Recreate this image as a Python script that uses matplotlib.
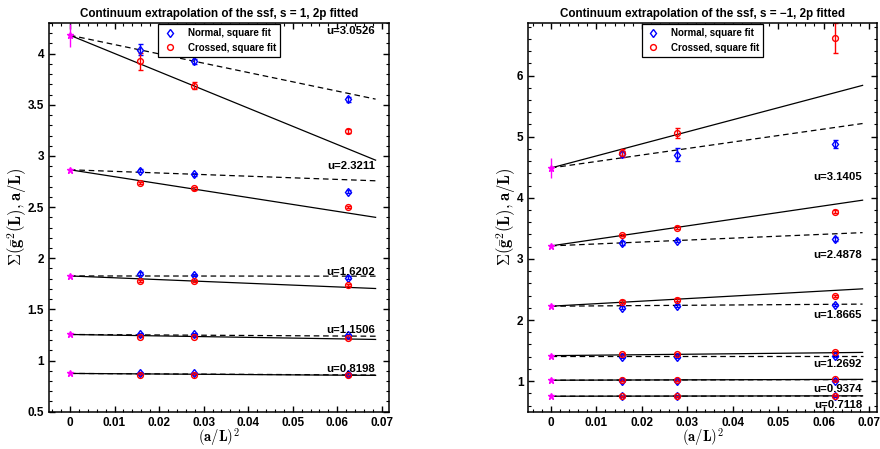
import numpy as np
import matplotlib
matplotlib.use('Agg')
import matplotlib.pyplot as plt
from matplotlib.ticker import MultipleLocator

plt.rcParams['font.family'] = ['Liberation Sans', 'DejaVu Sans']
plt.rcParams['font.weight'] = 'bold'
plt.rcParams['mathtext.fontset'] = 'cm'

# lattice spacings (a/L)^2 for L/a = 8, 6, 4
x_pts = [1 / 64.0, 1 / 36.0, 1 / 16.0]
x_end = 0.0686

# s = 1
u_s1 = ['3.0526', '2.3211', '1.6202', '1.1506', '0.8198']
cont_s1 = [4.18, 2.865, 1.827, 1.255, 0.874]
cont_err_s1 = [0.11, 0.012, 0.008, 0.006, 0.005]
normal_s1 = [[4.04, 3.925, 3.553], [2.855, 2.82, 2.65], [1.85, 1.834, 1.81],
             [1.26, 1.255, 1.245], [0.877, 0.875, 0.87]]
normal_err_s1 = [[0.05, 0.025, 0.025], [0.015, 0.015, 0.015], [0.012, 0.012, 0.012],
                 [0.01, 0.01, 0.01], [0.008, 0.008, 0.008]]
crossed_s1 = [[3.925, 3.687, 3.245], [2.734, 2.683, 2.50], [1.782, 1.778, 1.736],
              [1.234, 1.234, 1.218], [0.862, 0.862, 0.855]]
crossed_err_s1 = [[0.08, 0.035, 0.02], [0.012, 0.012, 0.012], [0.01, 0.01, 0.01],
                  [0.008, 0.008, 0.008], [0.006, 0.006, 0.006]]
slope_normal_s1 = [-9.1, -1.57, -0.03, -0.25, -0.23]
slope_crossed_s1 = [-17.8, -6.78, -1.79, -0.71, -0.28]

# s = -1
u_sm1 = ['3.1405', '2.4878', '1.8665', '1.2692', '0.9374', '0.7118']
cont_sm1 = [4.488, 3.213, 2.226, 1.417, 1.015, 0.753]
cont_err_sm1 = [0.17, 0.02, 0.015, 0.01, 0.008, 0.006]
normal_sm1 = [[4.723, 4.707, 4.88], [3.257, 3.30, 3.33], [2.203, 2.236, 2.247],
              [1.40, 1.40, 1.41], [1.01, 1.01, 1.01], [0.75, 0.75, 0.75]]
normal_err_sm1 = [[0.05, 0.1, 0.06], [0.03, 0.03, 0.03], [0.03, 0.03, 0.02],
                  [0.02, 0.02, 0.02], [0.015, 0.015, 0.015], [0.01, 0.01, 0.01]]
crossed_sm1 = [[4.73, 5.06, 6.615], [3.388, 3.512, 3.774], [2.30, 2.334, 2.39],
               [1.45, 1.45, 1.47], [1.02, 1.02, 1.03], [0.755, 0.755, 0.76]]
crossed_err_sm1 = [[0.07, 0.08, 0.24], [0.02, 0.02, 0.02], [0.02, 0.02, 0.02],
                   [0.015, 0.015, 0.015], [0.01, 0.01, 0.01], [0.008, 0.008, 0.008]]
slope_normal_sm1 = [10.6, 3.16, 0.5, 0.0, 0.15, 0.05]
slope_crossed_sm1 = [19.7, 10.9, 4.14, 0.77, 0.2, 0.1]


def panel(ax, title, u, cont, cont_err, nrm, nrm_err, crs, crs_err,
          sl_n, sl_c, label_dy):
    xl = np.array([0.0, x_end])
    for i in range(len(u)):
        ax.plot(xl, cont[i] + sl_n[i] * xl, '--', color='k', lw=0.9, dashes=(4.5, 3))
        ax.plot(xl, cont[i] + sl_c[i] * xl, '-', color='k', lw=0.9)
        hn = ax.errorbar(x_pts, nrm[i], yerr=nrm_err[i], fmt='d', ms=4.5, mfc='none',
                         mec='b', mew=1, ecolor='b', elinewidth=1, capsize=1.8)
        hc = ax.errorbar(x_pts, crs[i], yerr=crs_err[i], fmt='o', ms=4.2, mfc='none',
                         mec='r', mew=1, ecolor='r', elinewidth=1, capsize=1.8)
        ax.errorbar([0.0], [cont[i]], yerr=[cont_err[i]], fmt='*', ms=5,
                    color='magenta', elinewidth=1, capsize=0)
        ax.annotate('u=' + u[i], (0.0685, cont[i]), xytext=(0, label_dy),
                    textcoords='offset points', ha='right', va='center',
                    fontsize=8.2, fontweight='bold')
    leg = ax.legend([hn[0], hc[0]], ['Normal, square fit', 'Crossed, square fit'],
                    loc='upper center', fontsize=7, fancybox=False, edgecolor='k',
                    framealpha=1, borderaxespad=0.15, handlelength=1.6,
                    handletextpad=1.0, borderpad=0.4, labelspacing=0.45)
    leg.get_frame().set_linewidth(0.9)
    ax.set_title(title, fontsize=8.4, fontweight='bold', pad=4)
    ax.set_xlabel(r'$\mathbf{(a/L)^2}$', fontsize=10.5, labelpad=-1)
    ax.set_ylabel(r'$\mathbf{\Sigma(\bar{g}^2(L),a/L)}$', fontsize=12, labelpad=-1)
    ax.xaxis.set_minor_locator(MultipleLocator(0.002))
    ax.tick_params(which='both', direction='in', top=True, right=True, labelsize=8.5)
    ax.tick_params(which='major', length=4, width=1)
    ax.tick_params(which='minor', length=2, width=0.8)
    for sp in ax.spines.values():
        sp.set_linewidth(1.1)
    ax.set_xticks([0, 0.01, 0.02, 0.03, 0.04, 0.05, 0.06, 0.07])
    ax.set_xticklabels(['0', '0.01', '0.02', '0.03', '0.04', '0.05', '0.06', '0.07'])


fig = plt.figure(figsize=(8.8, 4.49), dpi=100)
ax1 = fig.add_axes([0.0557, 0.0831, 0.3863, 0.8657])
ax2 = fig.add_axes([0.6003, 0.0831, 0.3959, 0.8657])

panel(ax1, 'Continuum extrapolation of the ssf, s = 1, 2p fitted', u_s1, cont_s1,
      cont_err_s1, normal_s1, normal_err_s1, crossed_s1, crossed_err_s1,
      slope_normal_s1, slope_crossed_s1, 3)
ax1.set_xlim(-0.0047, 0.0716)
ax1.set_ylim(0.5, 4.3)
ax1.yaxis.set_minor_locator(MultipleLocator(0.1))
ax1.set_yticks([0.5, 1, 1.5, 2, 2.5, 3, 3.5, 4])
ax1.set_yticklabels(['0.5', '1', '1.5', '2', '2.5', '3', '3.5', '4'])

panel(ax2, 'Continuum extrapolation of the ssf, s = \u22121, 2p fitted', u_sm1, cont_sm1,
      cont_err_sm1, normal_sm1, normal_err_sm1, crossed_sm1, crossed_err_sm1,
      slope_normal_sm1, slope_crossed_sm1, -6.3)
ax2.set_xlim(-0.005, 0.0717)
ax2.set_ylim(0.5, 6.86)
ax2.yaxis.set_major_locator(MultipleLocator(1))
ax2.yaxis.set_minor_locator(MultipleLocator(0.2))

fig.savefig('out.png', dpi=100)
